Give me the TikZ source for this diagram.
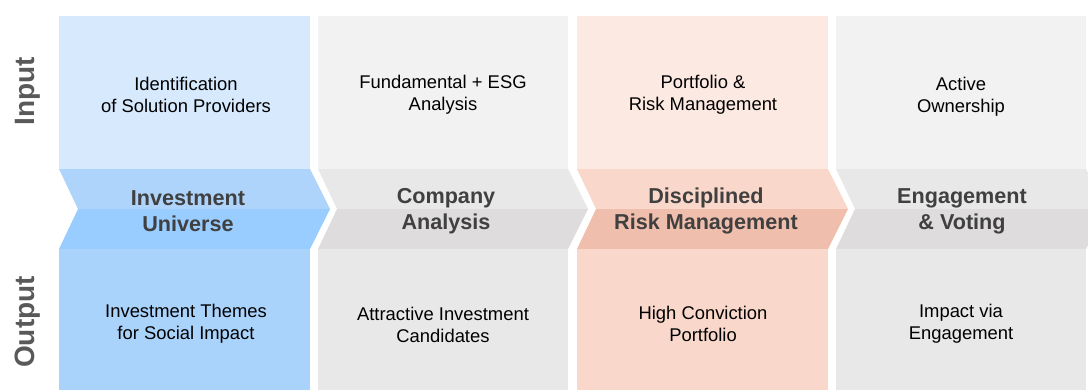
\documentclass[tikz,border=0pt]{standalone}
\usepackage{fontspec}
\setmainfont{Liberation Sans}
\definecolor{bTop}{RGB}{214,233,253}
\definecolor{bChU}{RGB}{174,212,251}
\definecolor{bChL}{RGB}{153,204,255}
\definecolor{bBot}{RGB}{170,211,251}
\definecolor{gTop}{RGB}{242,242,242}
\definecolor{gChU}{RGB}{232,232,232}
\definecolor{gChL}{RGB}{222,220,220}
\definecolor{gBot}{RGB}{232,232,232}
\definecolor{rTop}{RGB}{252,233,226}
\definecolor{rChU}{RGB}{249,216,203}
\definecolor{rChL}{RGB}{240,190,172}
\definecolor{rBot}{RGB}{249,216,203}
\definecolor{headgray}{RGB}{64,64,64}
\definecolor{sidegray}{RGB}{89,89,89}
\tikzset{
  boxtext/.style={align=center, font=\fontsize{13.8}{16.5}\selectfont, text=black, inner sep=0pt},
  chevtext/.style={align=center, font=\fontsize{16.2}{19.5}\selectfont\bfseries, text=headgray, inner sep=0pt},
  sidetext/.style={rotate=90, anchor=base, font=\fontsize{21}{24}\selectfont\bfseries, text=sidegray, inner sep=0pt}
}
\newcommand{\stagecol}[3]{% left, right, colour prefix
  \fill[#3Top] (#1,16) rectangle (#2,169);
  \fill[#3ChU] (#1,169) -- (#2,169) -- ($(#2,209)+(20,0)$) -- ($(#1,209)+(19,0)$) -- cycle;
  \fill[#3ChL] ($(#1,209)+(19,0)$) -- ($(#2,209)+(20,0)$) -- (#2,249) -- (#1,249) -- cycle;
  \fill[#3Bot] (#1,249) rectangle (#2,390);
}
\usetikzlibrary{calc}
\begin{document}
\begin{tikzpicture}[x=0.75pt,y=-0.75pt]
\useasboundingbox (0,0) rectangle (1088,390);
\clip (0,0) rectangle (1088,390);
\stagecol{59}{310}{b}
\stagecol{318}{568}{g}
\stagecol{577}{828}{r}
\stagecol{836}{1086}{g}

\node[sidetext] (inp) at (34,91) {Input};
\node[sidetext] (outp) at (34,322) {Output};

\node[boxtext] (t1) at (186,95) {Identification\\of Solution Providers};
\node[chevtext] (c1) at (188,211) {Investment\\Universe};
\node[boxtext] (o1) at (186,324) {Investment Themes\\for Social Impact};

\node[boxtext] (t2) at (443,95) {Fundamental + ESG\\Analysis};
\node[chevtext] (c2) at (446,211) {Company\\Analysis};
\node[boxtext] (o2) at (443,325) {Attractive Investment\\Candidates};

\node[boxtext] (t3) at (703,95) {Portfolio \&\\Risk Management};
\node[chevtext] (c3) at (706,211) {Disciplined\\Risk Management};
\node[boxtext] (o3) at (703,324) {High Conviction\\Portfolio};

\node[boxtext] (t4) at (961,97) {Active\\Ownership};
\node[chevtext] (c4) at (962,211) {Engagement\\\& Voting};
\node[boxtext] (o4) at (961,324) {Impact via\\Engagement};
\end{tikzpicture}
\end{document}
